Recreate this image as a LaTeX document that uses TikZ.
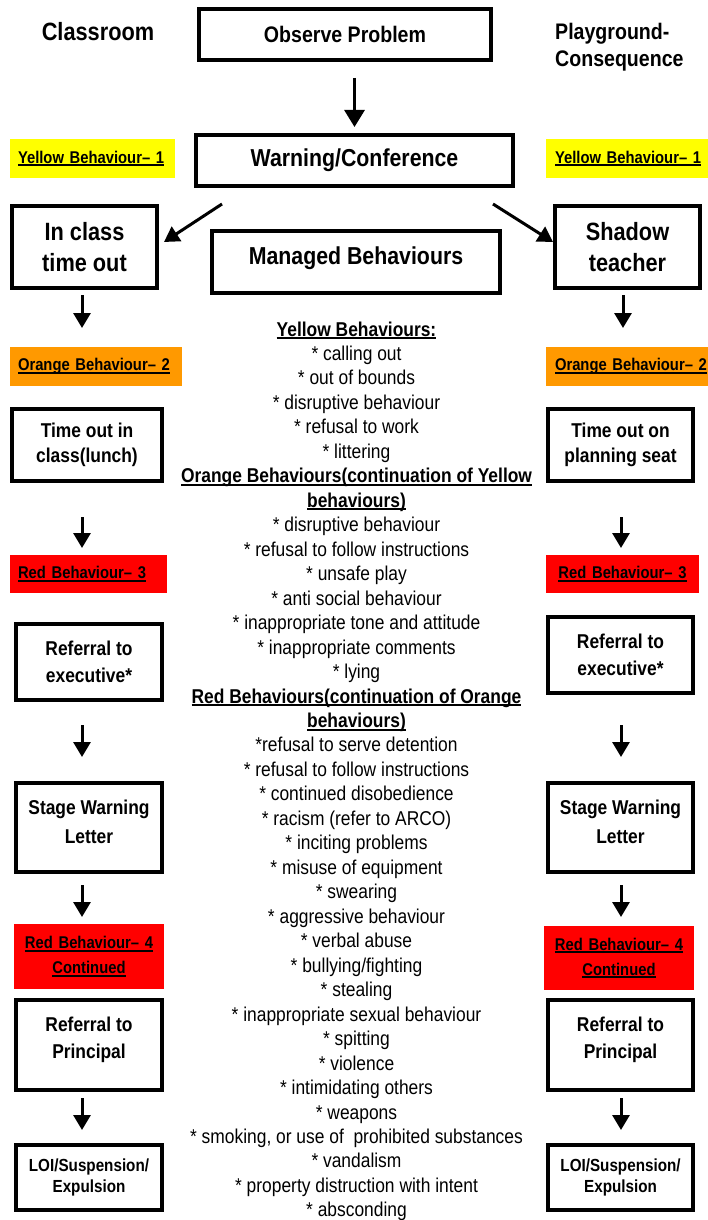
\documentclass[tikz,border=0pt]{standalone}
\usepackage{fontspec}
\setmainfont{Liberation Sans}[FakeStretch=0.87]
\usetikzlibrary{arrows.meta,calc}
\definecolor{ylw}{HTML}{FFFF00}
\definecolor{org}{HTML}{FF9900}
\definecolor{rd}{HTML}{FF0000}
\newcommand\ulx[1]{\leavevmode\setbox0\hbox{#1}\rlap{\rule[-0.16em]{\wd0}{0.1em}}\box0}
\newcommand\fsz[2]{\fontsize{#1}{#2}\selectfont}
\begin{document}
\begin{tikzpicture}[x=1pt,y=-1pt]
\tikzset{
  box/.style={draw, line width=4pt, outer sep=0pt, inner sep=0pt, align=center},
  lab/.style={outer sep=0pt, inner sep=0pt, anchor=north west, font=\fsz{17}{25}\bfseries},
  arr/.style={line width=3pt, -{Triangle[width=17pt,length=15pt]}},
  bigarr/.style={line width=3pt, -{Triangle[width=20pt,length=17pt]}},
  body/.style={anchor=base, inner sep=0pt, font=\fsz{20}{24}}
}
\useasboundingbox (0,0) rectangle (708,1220);
\clip (0,0) rectangle (708,1220);
\fill[white] (0,0) rectangle (708,1220);

% headings
\node[font=\fsz{25}{28}\bfseries, inner sep=0pt] (cls) at (98,32) {Classroom};
\node[anchor=north west, align=left, font=\fsz{22.5}{27}\bfseries, inner sep=0pt] (play) at (555,23) {Playground-\\Consequence};

% centre boxes
\node[box, minimum width=292, minimum height=51, font=\fsz{22.5}{26}\bfseries] (obs) at (345,34.5) {Observe Problem};
\node[box, minimum width=317, minimum height=51, font=\fsz{24.5}{28}\bfseries] (warn) at (354.5,160.5) {Warning/Conference};
\node[box, minimum width=288, minimum height=62] (man) at (356,262) {};
\node[inner sep=0pt, font=\fsz{24.5}{28}\bfseries] (mant) at (356,258) {Managed Behaviours};

% labels
\node[lab, fill=ylw, minimum width=165, minimum height=39, text width=149, inner xsep=8pt, align=left] (yL) at (10,139) {\ulx{Yellow Behaviour– 1}};
\node[lab, fill=ylw, minimum width=162, minimum height=39, text width=144, inner xsep=9pt, align=left] (yR) at (546,139) {\ulx{Yellow Behaviour– 1}};
\node[lab, fill=org, minimum width=172, minimum height=39, text width=156, inner xsep=8pt, align=left] (oL) at (10,347) {\ulx{Orange Behaviour– 2}};
\node[lab, fill=org, minimum width=166, minimum height=39, text width=148, inner xsep=9pt, align=left] (oR) at (546,347) {\ulx{Orange Behaviour– 2}};
\node[lab, fill=rd, minimum width=157, minimum height=38, text width=141, inner xsep=8pt, align=left] (r3L) at (10,555) {\ulx{Red Behaviour– 3}};
\node[lab, fill=rd, minimum width=153, minimum height=38, text width=137, inner xsep=8pt, align=center] (r3R) at (546,555) {\ulx{Red Behaviour– 3}};
\node[lab, fill=rd, minimum width=150, minimum height=65, text width=150, align=center] (r4L) at (14,924) {\ulx{Red Behaviour– 4}\\\ulx{Continued}};
\node[lab, fill=rd, minimum width=150, minimum height=64, text width=150, align=center] (r4R) at (544,926) {\ulx{Red Behaviour– 4}\\\ulx{Continued}};

% left column boxes
\node[box, minimum width=145, minimum height=82, font=\fsz{25}{31}\bfseries] (inL) at (84.5,247) {In class\\time out};
\node[box, minimum width=150, minimum height=72, font=\fsz{20}{25}\bfseries] (toL) at (87,445) {Time out in\\class(lunch)};
\node[box, minimum width=146, minimum height=76, font=\fsz{20}{27}\bfseries] (refL) at (89,662) {Referral to\\executive*};
\node[box, minimum width=146, minimum height=89] (stL) at (89,827.5) {};
\node[align=center, inner sep=0pt, font=\fsz{20}{29}\bfseries] (stLt) at (89,822) {Stage Warning\\Letter};
\node[box, minimum width=146, minimum height=90] (prL) at (89,1045) {};
\node[align=center, inner sep=0pt, font=\fsz{20}{27}\bfseries] (prLt) at (89,1039.5) {Referral to\\Principal};
\node[box, minimum width=146, minimum height=65, font=\fsz{17.5}{21}\bfseries] (loiL) at (89,1177.5) {LOI/Suspension/\\Expulsion};

% right column boxes
\node[box, minimum width=145, minimum height=82, font=\fsz{25}{31}\bfseries] (shR) at (627.5,247) {Shadow\\teacher};
\node[box, minimum width=145, minimum height=72, font=\fsz{20}{25}\bfseries] (toR) at (620.5,445) {Time out on\\planning seat};
\node[box, minimum width=145, minimum height=76, font=\fsz{20}{27}\bfseries] (refR) at (620.5,655) {Referral to\\executive*};
\node[box, minimum width=145, minimum height=89] (stR) at (620.5,827.5) {};
\node[align=center, inner sep=0pt, font=\fsz{20}{29}\bfseries] (stRt) at (620.5,822) {Stage Warning\\Letter};
\node[box, minimum width=145, minimum height=90] (prR) at (620.5,1045) {};
\node[align=center, inner sep=0pt, font=\fsz{20}{27}\bfseries] (prRt) at (620.5,1039.5) {Referral to\\Principal};
\node[box, minimum width=145, minimum height=65, font=\fsz{17.5}{21}\bfseries] (loiR) at (620.5,1177.5) {LOI/Suspension/\\Expulsion};

% arrow columns
\coordinate (cl) at (82,0);
\coordinate (cr) at (621,0);
\coordinate (cr2) at (623,0);

\draw[bigarr, shorten <=18pt, shorten >=8pt] (obs.south -| warn.north) -- (warn.north);
\draw[arr] ($(warn.south west)+(26,18)$) -- ($(inL.east)+(7,-5)$);
\draw[arr] ($(warn.south east)+(-20,18)$) -- ($(shR.west)+(-2,-5)$);

\draw[arr, shorten <=7pt, shorten >=19pt] (inL.south -| cl) -- (oL.north -| cl);
\draw[arr, shorten <=36pt, shorten >=7pt] (toL.south -| cl) -- (r3L.north -| cl);
\draw[arr, shorten <=25pt, shorten >=26pt] (refL.south -| cl) -- (stL.north -| cl);
\draw[arr, shorten <=13pt, shorten >=7pt] (stL.south -| cl) -- (r4L.north -| cl);
\draw[arr, shorten <=8pt, shorten >=15pt] (prL.south -| cl) -- (loiL.north -| cl);

\draw[arr, shorten <=7pt, shorten >=19pt] (shR.south -| cr2) -- (oR.north -| cr2);
\draw[arr, shorten <=36pt, shorten >=7pt] (toR.south -| cr) -- (r3R.north -| cr);
\draw[arr, shorten <=32pt, shorten >=26pt] (refR.south -| cr) -- (stR.north -| cr);
\draw[arr, shorten <=13pt, shorten >=9pt] (stR.south -| cr) -- (r4R.north -| cr);
\draw[arr, shorten <=8pt, shorten >=15pt] (prR.south -| cr) -- (loiR.north -| cr);

% managed behaviours list
\foreach \t [count=\i from 0] in {
  {\bfseries\ulx{Yellow Behaviours:}},
  {* calling out},
  {* out of bounds},
  {* disruptive behaviour},
  {* refusal to work},
  {* littering},
  {\bfseries\ulx{Orange Behaviours(continuation of Yellow}},
  {\bfseries\ulx{behaviours)}},
  {* disruptive behaviour},
  {* refusal to follow instructions},
  {* unsafe play},
  {* anti social behaviour},
  {* inappropriate tone and attitude},
  {* inappropriate comments},
  {* lying},
  {\bfseries\ulx{Red Behaviours(continuation of Orange}},
  {\bfseries\ulx{behaviours)}},
  {*refusal to serve detention},
  {* refusal to follow instructions},
  {* continued disobedience},
  {* racism (refer to ARCO)},
  {* inciting problems},
  {* misuse of equipment},
  {* swearing},
  {* aggressive behaviour},
  {* verbal abuse},
  {* bullying/fighting},
  {* stealing},
  {* inappropriate sexual behaviour},
  {* spitting},
  {* violence},
  {* intimidating others},
  {* weapons},
  {* smoking, or use of\ \ prohibited substances},
  {* vandalism},
  {* property distruction with intent},
  {* absconding}}
  \node[body] (mt\i) at (356.5,{336+24.47*\i}) {\t};
\end{tikzpicture}
\end{document}
